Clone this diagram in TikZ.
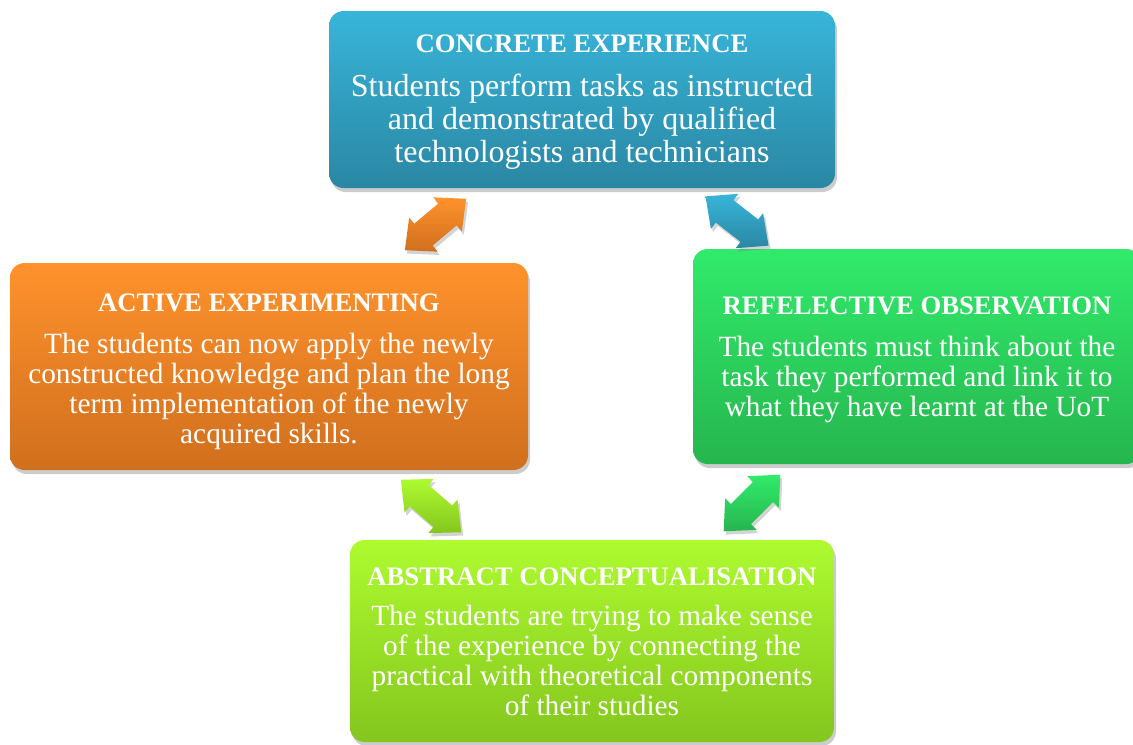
\documentclass[tikz,border=0pt]{standalone}
\usepackage{fontspec}
\setmainfont{Liberation Serif}
\usetikzlibrary{shapes.arrows,shadows}
\definecolor{skyA}{HTML}{38B5DA}
\definecolor{skyB}{HTML}{2A87A3}
\definecolor{orangeA}{HTML}{FF922C}
\definecolor{orangeB}{HTML}{D06F1E}
\definecolor{greenA}{HTML}{31EB6B}
\definecolor{greenB}{HTML}{26B54E}
\definecolor{limeA}{HTML}{AEFB30}
\definecolor{limeB}{HTML}{84C61E}
\newcommand{\stagehead}[1]{{\fontsize{20}{21}\selectfont\bfseries #1}}

\begin{document}
\begin{tikzpicture}[x=0.75pt, y=-0.75pt,
  stage/.style={rounded corners=11pt, inner sep=0pt,
    drop shadow={opacity=0.4, shadow xshift=1.5pt, shadow yshift=-3pt}},
  stagetext/.style={align=center, text=white, inner sep=0pt,
    font=\fontsize{22}{22.5}\selectfont},
  link/.style={double arrow, double arrow head extend=6pt, double arrow tip angle=85,
    inner sep=0pt, inner ysep=10.5pt, minimum height=60pt,
    drop shadow={opacity=0.35, shadow xshift=1.5pt, shadow yshift=-2.5pt}}]
\useasboundingbox (0,0) rectangle (1133,744);

\node[stage, top color=skyA, bottom color=skyB, minimum width=379.5pt, minimum height=132.75pt]
  (concrete) at (582,99.5) {};
\node[stagetext, font=\fontsize{24}{25}\selectfont] (concretetext) at ([yshift=-2.25pt]concrete.center)
  {\stagehead{CONCRETE EXPERIENCE}\\[7.5pt]
  Students perform tasks as instructed\\ and demonstrated by qualified\\ technologists and technicians};

\node[stage, top color=greenA, bottom color=greenB, minimum width=336pt, minimum height=161.25pt]
  (reflective) at (917,356.5) {};
\node[stagetext] (reflectivetext) at ([yshift=-2.4pt]reflective.center)
  {\stagehead{REFELECTIVE OBSERVATION}\\[9pt]
  The students must think about the\\ task they performed and link it to\\ what they have learnt at the UoT};

\node[stage, top color=limeA, bottom color=limeB, minimum width=363pt, minimum height=151.5pt]
  (abstract) at (592,641) {};
\node[stagetext] (abstracttext) at ([yshift=-0.5pt]abstract.center)
  {\stagehead{ABSTRACT CONCEPTUALISATION}\\[8pt]
  The students are trying to make sense\\ of the experience by connecting the\\ practical with theoretical components\\ of their studies};

\node[stage, top color=orangeA, bottom color=orangeB, minimum width=388.5pt, minimum height=155.25pt]
  (active) at (269,366.5) {};
\node[stagetext] (activetext) at ([yshift=-4pt]active.center)
  {\stagehead{ACTIVE EXPERIMENTING}\\[9pt]
  The students can now apply the newly\\ constructed knowledge and plan the long\\ term implementation of the newly\\ acquired skills.};

\node[link, rotate=40, top color=orangeA, bottom color=orangeB] (activeconcrete) at (435.5,224.5) {};
\node[link, rotate=-38, top color=skyA, bottom color=skyB] (concretereflective) at (737,221) {};
\node[link, rotate=45, top color=greenA, bottom color=greenB] (reflectiveabstract) at (752,503) {};
\node[link, rotate=-41, top color=limeA, bottom color=limeB] (abstractactive) at (431,506) {};
\end{tikzpicture}
\end{document}
